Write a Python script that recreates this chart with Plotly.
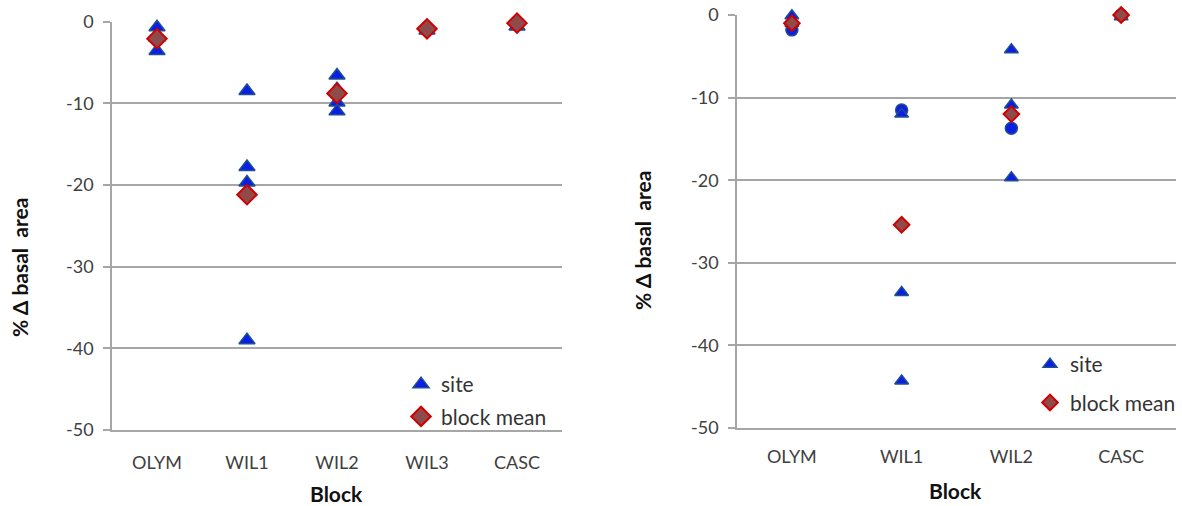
import plotly.graph_objects as go

# ---------------- data ----------------
left_blocks = ["OLYM", "WIL1", "WIL2", "WIL3", "CASC"]
left_site_block = ["OLYM", "OLYM", "OLYM", "WIL1", "WIL1", "WIL1", "WIL1",
                   "WIL2", "WIL2", "WIL2", "WIL2", "WIL3", "CASC", "CASC"]
left_site_vals = [-0.7, -2.0, -3.6, -8.5, -17.8, -19.7, -39.0,
                  -6.6, -8.3, -9.9, -11.0, -1.1, 0.0, -0.6]
left_mean_vals = [-2.1, -21.2, -8.8, -0.9, -0.2]

right_blocks = ["OLYM", "WIL1", "WIL2", "CASC"]
right_tri_block = ["OLYM", "OLYM", "WIL1", "WIL1", "WIL1", "WIL2", "WIL2", "WIL2", "CASC"]
right_tri_vals = [-0.1, -1.0, -12.0, -33.6, -44.3, -4.2, -10.9, -19.7, -0.2]
right_circ_block = ["OLYM", "WIL1", "WIL2", "CASC"]
right_circ_vals = [-1.8, -11.5, -13.7, 0.0]
right_mean_vals = [-1.0, -25.4, -12.0, 0.0]

y_ticks = [0, -10, -20, -30, -40, -50]

# ---------------- style ----------------
FONT = "Lato, 'Liberation Sans', sans-serif"
BLUE_FILL = "#0a1ee6"
BLUE_LINE = "#1f4f8f"
RED_FILL = "#8f4a4a"
RED_LINE = "#d00000"
GRID = "#a6a6a6"
W, H = 1182, 506

def px_x(p):
    return p / W

def px_y(p):
    return 1 - p / H

fig = go.Figure()

# left panel
fig.add_trace(go.Scatter(
    x=left_site_block, y=left_site_vals, mode="markers", name="site",
    marker=dict(symbol="triangle-up", size=14, color=BLUE_FILL,
                line=dict(color=BLUE_LINE, width=1.5)),
    xaxis="x", yaxis="y", legend="legend", legendgroup="a", cliponaxis=False))
fig.add_trace(go.Scatter(
    x=left_blocks, y=left_mean_vals, mode="markers", name="block mean",
    marker=dict(symbol="diamond", size=15, color=RED_FILL,
                line=dict(color=RED_LINE, width=2)),
    xaxis="x", yaxis="y", legend="legend", legendgroup="b", cliponaxis=False))

# right panel
fig.add_trace(go.Scatter(
    x=right_circ_block, y=right_circ_vals, mode="markers", name="site",
    marker=dict(symbol="circle", size=12, color=BLUE_FILL,
                line=dict(color=BLUE_LINE, width=1.5)),
    xaxis="x2", yaxis="y2", showlegend=False, cliponaxis=False))
fig.add_trace(go.Scatter(
    x=right_tri_block, y=right_tri_vals, mode="markers", name="site",
    marker=dict(symbol="triangle-up", size=12, color=BLUE_FILL,
                line=dict(color=BLUE_LINE, width=1.5)),
    xaxis="x2", yaxis="y2", legend="legend2", legendgroup="c", cliponaxis=False))
fig.add_trace(go.Scatter(
    x=right_blocks, y=right_mean_vals, mode="markers", name="block mean",
    marker=dict(symbol="diamond", size=12, color=RED_FILL,
                line=dict(color=RED_LINE, width=2)),
    xaxis="x2", yaxis="y2", legend="legend2", legendgroup="d", cliponaxis=False))

tickfont = dict(family=FONT, size=18, color="#404040")

def xbottom(dom, cats, anchor, standoff):
    return dict(domain=dom, anchor=anchor, type="category",
                categoryorder="array", categoryarray=cats,
                range=[-0.5, len(cats) - 0.5], automargin=False,
                showline=True, linecolor=GRID, linewidth=1.5,
                ticks="", showgrid=False, zeroline=False,
                tickfont=tickfont, ticklabelstandoff=standoff, fixedrange=True)

def xtop(cats, overlay, anchor):
    return dict(overlaying=overlay, anchor=anchor, side="top", type="category",
                categoryorder="array", categoryarray=cats,
                range=[-0.5, len(cats) - 0.5], automargin=False,
                showline=True, linecolor=GRID, linewidth=1.5,
                ticks="inside", tickson="boundaries", ticklen=6, tickwidth=1.5,
                tickcolor=GRID, showticklabels=False, showgrid=False,
                zeroline=False)

def yax(dom, anchor):
    return dict(domain=dom, anchor=anchor, range=[-50, 0], automargin=False,
                tickvals=y_ticks, ticktext=[str(v) for v in y_ticks],
                showline=True, linecolor=GRID, linewidth=1.5,
                ticks="outside", ticklen=7, tickwidth=1.5, tickcolor=GRID,
                showgrid=True, gridcolor=GRID, gridwidth=1.5,
                zeroline=False, tickfont=tickfont, ticklabelstandoff=6)

left_xdom = [px_x(112), px_x(562)]
right_xdom = [px_x(737), px_x(1176)]
left_ydom = [px_y(430), px_y(21.5)]
right_ydom = [px_y(428), px_y(15)]

legfont = dict(family=FONT, size=21, color="#333333")
titlefont = dict(family=FONT, size=21, color="#111111")

def ann(text, x, y, angle=0):
    return dict(text=text, x=px_x(x), y=px_y(y), xref="paper", yref="paper",
                xanchor="center", yanchor="middle", showarrow=False,
                textangle=angle, font=titlefont)

fig.update_layout(
    width=W, height=H,
    margin=dict(l=0, r=0, t=0, b=0, autoexpand=False),
    paper_bgcolor="white", plot_bgcolor="white",
    xaxis=xbottom(left_xdom, left_blocks, "y", 16),
    yaxis=yax(left_ydom, "x"),
    xaxis2=xbottom(right_xdom, right_blocks, "y2", 12),
    yaxis2=yax(right_ydom, "x2"),
    xaxis3=xtop(left_blocks, "x", "y"),
    xaxis4=xtop(right_blocks, "x2", "y2"),
    legend=dict(x=px_x(401), y=px_y(364), xanchor="left", yanchor="top",
                bgcolor="rgba(0,0,0,0)", font=legfont, traceorder="grouped",
                tracegroupgap=2, itemwidth=30),
    legend2=dict(x=px_x(1030), y=px_y(344), xanchor="left", yanchor="top",
                 bgcolor="rgba(0,0,0,0)", font=legfont, traceorder="grouped",
                 tracegroupgap=8, itemwidth=30),
    annotations=[
        ann("<b>% Δ basal  area</b>", 19, 268, -90),
        ann("<b>Block</b>", 336, 493),
        ann("<b>% Δ basal  area</b>", 643, 240, -90),
        ann("<b>Block</b>", 956, 490),
    ],
)

fig.write_html("out.html", config={"displayModeBar": False},
               post_script="document.body.style.margin='0';")
